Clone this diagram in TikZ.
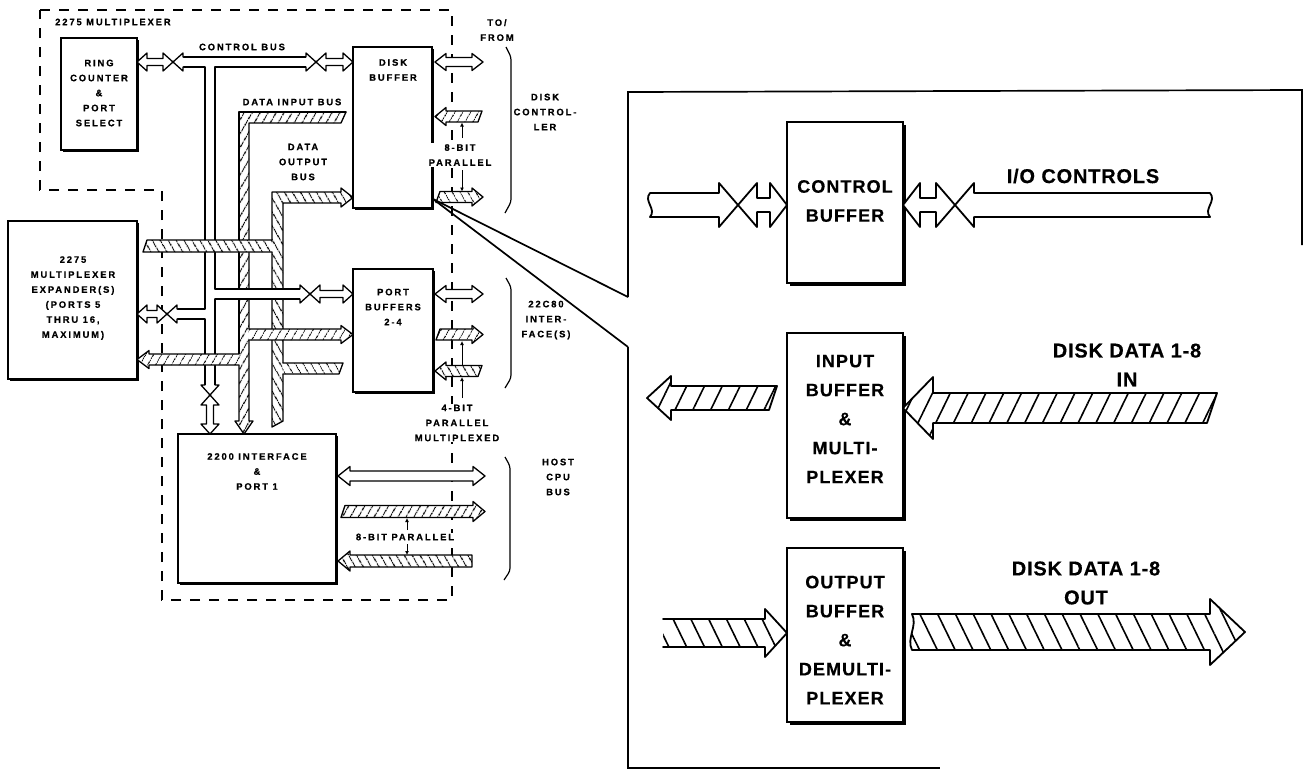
\documentclass[tikz,border=0pt]{standalone}
\usepackage{fontspec}
\setmainfont{Liberation Sans}
\newfontfamily\labf{Liberation Sans}[LetterSpace=20,FakeBold=0.6]
\newfontfamily\bigf{Liberation Sans}[LetterSpace=6,FakeBold=0.4]
\newfontfamily\outf{Liberation Sans}[LetterSpace=4,FakeBold=0.4]
\usetikzlibrary{patterns.meta,arrows.meta,shadows}

\tikzset{
 bl/.style={line width=1.3pt, line cap=round, line join=round},
 bl2/.style={line width=1.8pt, line cap=round, line join=round},
 hs/.style={preaction={fill=white}, pattern={Lines[angle=60,distance=6.5pt,line width=1pt]}},
 hb/.style={preaction={fill=white}, pattern={Lines[angle=120,distance=6.5pt,line width=1pt]}},
 HS/.style={preaction={fill=white}, pattern={Lines[angle=64,distance=16pt,line width=1.6pt]}},
 HB/.style={preaction={fill=white}, pattern={Lines[angle=116,distance=16pt,line width=1.6pt]}},
 sbox/.style={draw, line width=1.4pt, fill=white, inner sep=0pt,
   drop shadow={shadow xshift=2pt, shadow yshift=-2pt, fill=black, opacity=1}},
 bbox/.style={draw, line width=1.6pt, fill=white, inner sep=0pt,
   drop shadow={shadow xshift=3pt, shadow yshift=-3pt, fill=black, opacity=1}},
 lab/.style={font=\labf\bfseries\fontsize{9.4}{15}\selectfont, align=center, inner sep=0pt},
 blab/.style={font=\bigf\bfseries\fontsize{18}{29}\selectfont, align=center, inner sep=0pt},
 olab/.style={font=\outf\bfseries\fontsize{20}{29}\selectfont, align=center, inner sep=0pt},
 dsh/.style={line width=1.3pt, dash pattern=on 10pt off 9pt},
 tick/.style={line width=1pt, -{Latex[length=4pt,width=4pt]}},
}

% crossed bidirectional connector: tip (#1,#2), angle #3, tip-to-X #4, W B N h h2
\newcommand\XConn[9]{%
 \begin{scope}[shift={(#1,#2)},rotate=#3]
 \filldraw[fill=white] ({-#4-#9},{-#5}) -- ({-#4-#9},{-#6}) -- ({-#4+#9},{#6}) -- ({-#4+#9},{#7}) -- ({-#8},{#7}) -- ({-#8},{#6}) -- (0,0) -- ({-#8},{-#6}) -- ({-#8},{-#7}) -- ({-#4+#9},{-#7}) -- ({-#4+#9},{-#6}) -- ({-#4-#9},{#6}) -- ({-#4-#9},{#5});
 \end{scope}}
\newcommand\XS[4]{\XConn{#1}{#2}{#3}{#4}{5}{9}{3.5}{10}{10}}
% double headed arrow x1 x2 y N B h
\newcommand\BiArr[6]{%
 \filldraw[fill=white] (#1,#3) -- ({#1+#6},{#3-#5}) -- ({#1+#6},{#3-#4}) -- ({#2-#6},{#3-#4}) -- ({#2-#6},{#3-#5}) -- (#2,#3) -- ({#2-#6},{#3+#5}) -- ({#2-#6},{#3+#4}) -- ({#1+#6},{#3+#4}) -- ({#1+#6},{#3+#5}) -- cycle;}
% hatched arrow: tail tip y W B h slant style
\newcommand\HArr[8]{%
 \pgfmathsetmacro\hx{(#2>#1)?(#2-#6):(#2+#6)}%
 \path[#8] ({#1+#7},{#3-#4}) -- (\hx,{#3-#4}) -- (\hx,{#3-#5}) -- (#2,#3) -- (\hx,{#3+#5}) -- (\hx,{#3+#4}) -- ({#1-#7},{#3+#4}) -- cycle;}

\begin{document}
\begin{tikzpicture}[x=1pt,y=-1pt]
\useasboundingbox (0,0) rectangle (1304,772);
\fill[white] (0,0) rectangle (1304,772);

% ---------------- left block diagram ----------------
\draw[dsh] (40,10) -- (452,10) -- (452,600) -- (162,600) -- (162,190) -- (40,190) -- cycle;
\node[lab, anchor=west] (mux) at (55,22) {2275 MULTIPLEXER};

\node[sbox, minimum width=76, minimum height=112] (ring) at (99,94) {};
\node[lab] (ringt) at (99,93) {RING\\COUNTER\\\&\\PORT\\SELECT};
\node[sbox, minimum width=79, minimum height=161] (disk) at (392.5,127.5) {};
\node[lab] (diskt) at (393,70) {DISK\\BUFFER};
\node[sbox, minimum width=80, minimum height=123] (port) at (393,330.5) {};
\node[lab] (portt) at (393,307) {PORT\\BUFFERS\\2-4};
\node[sbox, minimum width=158, minimum height=149] (iface) at (257,508.5) {};
\node[lab] (ifacet) at (257,471.5) {2200 INTERFACE\\\&\\PORT 1};
\node[sbox, minimum width=129, minimum height=158] (exp) at (72.5,300) {};
\node[lab] (expt) at (73,298) {2275\\MULTIPLEXER\\EXPANDER(S)\\(PORTS 5\\THRU 16,\\MAXIMUM)};

\node[lab] (cbl) at (242,47) {CONTROL BUS};
\node[lab] (dibl) at (292,102) {DATA INPUT BUS};
\node[lab] (dobl) at (303,162) {DATA\\OUTPUT\\BUS};

% control bus network
\begin{scope}[bl]
\fill[white] (183,57) rectangle (306,67);
\fill[white] (205,67) rectangle (215,385);
\fill[white] (177,309) rectangle (205,319);
\draw (183,57) -- (306,57);
\draw (183,67) -- (205,67) -- (205,309) -- (177,309);
\draw (177,319) -- (205,319) -- (205,385);
\draw (306,67) -- (215,67) -- (215,289);
\draw (215,299) -- (215,385);
\XS{137}{62}{180}{36}
\XS{353}{62}{0}{37}
\XS{137}{314}{180}{30}
\XS{210}{434}{-90}{39}
\end{scope}

% data input bus
\path[hs] (346,112) -- (239,112) -- (239,421) -- (235,421) -- (244,434) -- (253,421) -- (249,421) -- (249,123) -- (341,123) -- cycle;
\draw[bl] (346,112) -- (239,112) -- (239,354);
\draw[bl] (239,365) -- (239,421) -- (235,421) -- (244,434) -- (253,421) -- (249,421) -- (249,340);
\draw[bl] (249,329) -- (249,123) -- (341,123) -- (346,112);

% data output bus
\path[hb] (272,192) -- (341,192) -- (341,188) -- (353,197.5) -- (341,207) -- (341,203) -- (283,203) -- (283,421) -- (272,427) -- cycle;
\draw[bl] (283,363) -- (283,203) -- (341,203) -- (341,207) -- (353,197.5) -- (341,188) -- (341,192) -- (272,192) -- (272,240);
\draw[bl] (272,252) -- (272,427) -- (283,421) -- (283,374);
\path[hb] (282.5,363) -- (343,363) -- (339,374) -- (282.5,374) -- cycle;
\draw[bl] (283,363) -- (343,363) -- (339,374) -- (283,374);

% expander data bus to data output bus
\path[hb] (147,240) -- (272.5,240) -- (272.5,252) -- (143,252) -- cycle;
\draw[bl] (272,240) -- (147,240) -- (143,252) -- (272,252);

% data input branches
\path[hs] (248.5,329) -- (341,329) -- (341,325.5) -- (353,334.5) -- (341,343.5) -- (341,340) -- (248.5,340) -- cycle;
\draw[bl] (249,329) -- (341,329) -- (341,325.5) -- (353,334.5) -- (341,343.5) -- (341,340) -- (249,340);
\path[hs] (239.5,354) -- (149,354) -- (149,350.5) -- (137,359.5) -- (149,368.5) -- (149,365) -- (239.5,365) -- cycle;
\draw[bl] (239,354) -- (149,354) -- (149,350.5) -- (137,359.5) -- (149,368.5) -- (149,365) -- (239,365);

% control branch to port buffers
\begin{scope}[bl]
\fill[white] (215,289) rectangle (300,299);
\draw (215,289) -- (300,289);
\draw (215,299) -- (300,299);
\XS{353}{294}{0}{43}
\end{scope}

% labels near the dashed boundary (they interrupt it)
\node[lab, fill=white, inner sep=1pt] (p8a) at (460,155) {8-BIT\\PARALLEL};
\node[lab, fill=white, inner sep=1pt] (p4) at (457,423) {4-BIT\\PARALLEL\\MULTIPLEXED};
\node[lab, fill=white, inner sep=1pt] (p8b) at (405,537) {8-BIT PARALLEL};

% outputs of the buffers
\begin{scope}[bl]
\BiArr{435}{483}{62}{4.5}{8.5}{11}
\HArr{480}{435}{116.5}{5.5}{9}{11}{2}{hs,draw}
\HArr{438}{483}{197}{5.5}{9}{11}{2}{hb,draw}
\BiArr{435}{483}{294}{4.5}{8.5}{11}
\HArr{438}{483}{334.5}{5.5}{9}{11}{2}{hs,draw}
\HArr{480}{435}{371}{5.5}{9}{11}{2}{hb,draw}
\BiArr{338}{485}{476}{5}{9.5}{12}
\HArr{343}{485}{511.5}{6}{10}{12}{2}{hs,draw}
\HArr{472}{338}{561}{6}{10}{12}{0}{hb,draw}
\end{scope}
\draw[tick] (462,138) -- (462,122.5);
\draw[tick] (462,170) -- (462,191.5);
\draw[tick] (462,365) -- (462,341);
\draw[tick] (462,398) -- (462,377);
\draw[tick] (407,530) -- (407,518);
\draw[tick] (407,544) -- (407,555);

\node[lab] (tofrom) at (497,30) {TO/\\FROM};
\node[lab] (dctl) at (545,112) {DISK\\CONTROL-\\LER};
\node[lab] (icf) at (546,320) {22C80\\INTER-\\FACE(S)};
\node[lab] (host) at (558,477) {HOST\\CPU\\BUS};

\draw[line width=1.2pt, rounded corners=3pt] (506,47) -- (511,57) -- (511,202) -- (505,213);
\draw[line width=1.2pt, rounded corners=3pt] (506,278) -- (511,287) -- (511,378) -- (505,388);
\draw[line width=1.2pt, rounded corners=3pt] (505,457) -- (510,466) -- (510,571) -- (504,580);

% ---------------- zoomed detail ----------------
\coordinate (zc) at (433,199);
\coordinate (za) at (628,297);
\coordinate (zb) at (628,347);
\draw[line width=1.7pt] (zc) -- (za);
\draw[line width=1.7pt] (zc) -- (zb);
\draw[line width=1.7pt] (za) -- (628,92) -- (1302,90) -- (1302,245);
\draw[line width=1.7pt] (zb) -- (628,768) -- (940,768);

\node[bbox, minimum width=116, minimum height=161] (cbuf) at (845,202.5) {};
\node[blab] (cbuft) at (845,201) {CONTROL\\BUFFER};
\node[bbox, minimum width=116, minimum height=185] (ibuf) at (845,425.5) {};
\node[blab] (ibuft) at (845,419) {INPUT\\BUFFER\\\&\\MULTI-\\PLEXER};
\node[bbox, minimum width=116, minimum height=174] (obuf) at (845,635) {};
\node[blab] (obuft) at (845,640) {OUTPUT\\BUFFER\\\&\\DEMULTI-\\PLEXER};

\node[olab] (ioc) at (1083,176) {I/O CONTROLS};
\node[olab] (ddin) at (1127,365) {DISK DATA 1-8\\IN};
\node[olab] (ddout) at (1086,583) {DISK DATA 1-8\\OUT};

\begin{scope}[bl2]
\fill[white] (650,193) rectangle (719,217);
\draw (719,193) -- (650,193) .. controls (643,201) and (657,209) .. (650,217) -- (719,217);
\XConn{787}{205}{0}{49}{12}{22}{7}{17}{19}
\draw (974,193) -- (1210,193) .. controls (1217,201) and (1203,209) .. (1210,217) -- (974,217);
\XConn{903}{205}{180}{52}{12}{22}{7}{17}{19}

\HArr{773}{647}{398}{12}{22}{24}{4}{HS,draw}
\HArr{1212}{903}{408}{15}{31}{30}{5}{HS,draw}

\path[HB] (663,619) -- (765,619) -- (765,609) -- (787,633) -- (765,657) -- (765,647) -- (663,647) -- cycle;
\draw (663,619) -- (765,619) -- (765,609) -- (787,633) -- (765,657) -- (765,647) -- (663,647);
\path[HB] (912,650) .. controls (906,638) and (918,626) .. (912,614) -- (1210,614) -- (1210,599) -- (1245,632) -- (1210,665) -- (1210,650) -- cycle;
\draw (912,650) .. controls (906,638) and (918,626) .. (912,614) -- (1210,614) -- (1210,599) -- (1245,632) -- (1210,665) -- (1210,650) -- cycle;
\end{scope}
\end{tikzpicture}
\end{document}
